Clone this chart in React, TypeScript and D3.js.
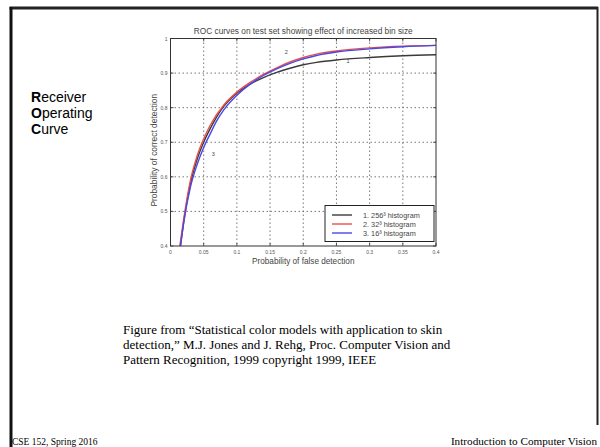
import React from "react";
import * as d3 from "d3";

const xTicks = [0, 0.05, 0.1, 0.15, 0.2, 0.25, 0.3, 0.35, 0.4];
const xTickLabels = ["0", "0.05", "0.1", "0.15", "0.2", "0.25", "0.3", "0.35", "0.4"];
const yTicks = [0.4, 0.5, 0.6, 0.7, 0.8, 0.9, 1];
const yTickLabels = ["0.4", "0.5", "0.6", "0.7", "0.8", "0.9", "1"];

const fprBlack = [0.015, 0.02, 0.025, 0.03, 0.04, 0.05, 0.06, 0.07, 0.08, 0.1, 0.12, 0.14, 0.16, 0.18, 0.2, 0.22, 0.25, 0.3, 0.35, 0.4];
const tprBlack = [0.4, 0.47, 0.53, 0.58, 0.65, 0.7, 0.74, 0.775, 0.803, 0.842, 0.868, 0.887, 0.902, 0.914, 0.924, 0.931, 0.938, 0.945, 0.95, 0.953];
const fprRed = [0.014, 0.02, 0.03, 0.04, 0.05, 0.06, 0.08, 0.1, 0.12, 0.14, 0.16, 0.18, 0.2, 0.22, 0.25, 0.3, 0.35, 0.4];
const tprRed = [0.4, 0.48, 0.59, 0.66, 0.71, 0.75, 0.807, 0.845, 0.873, 0.896, 0.915, 0.932, 0.945, 0.955, 0.964, 0.973, 0.978, 0.98];
const fprBlue = [0.015, 0.02, 0.03, 0.04, 0.05, 0.06, 0.07, 0.08, 0.1, 0.12, 0.14, 0.16, 0.18, 0.2, 0.22, 0.25, 0.3, 0.35, 0.4];
const tprBlue = [0.4, 0.47, 0.57, 0.635, 0.685, 0.725, 0.763, 0.793, 0.836, 0.868, 0.893, 0.912, 0.928, 0.941, 0.951, 0.961, 0.97, 0.976, 0.98];

const seriesNames = ["1. 256\u00B3 histogram", "2. 32\u00B3 histogram", "3. 16\u00B3 histogram"];
const seriesColors = ["#3a3a3a", "#e8504a", "#4848e8"];

const captionLines = [
  "Figure from \u201CStatistical color models with application to skin",
  "detection,\u201D M.J. Jones and J. Rehg, Proc. Computer Vision and",
  "Pattern Recognition, 1999 copyright 1999, IEEE",
];

export default function App() {
  const x = d3.scaleLinear().domain([0, 0.4]).range([170.5, 436]);
  const y = d3.scaleLinear().domain([0.4, 1]).range([246, 38.5]);
  const line = d3
    .line<[number, number]>()
    .x((d) => x(d[0]))
    .y((d) => y(d[1]))
    .curve(d3.curveMonotoneX);
  const series = [
    d3.zip(fprBlack, tprBlack) as [number, number][],
    d3.zip(fprRed, tprRed) as [number, number][],
    d3.zip(fprBlue, tprBlue) as [number, number][],
  ];
  const x0 = x(0), x1 = x(0.4), y0 = y(0.4), y1 = y(1);
  const sans = "'Liberation Sans', Arial, sans-serif";
  const serif = "'Liberation Serif', 'Times New Roman', serif";
  const lx = 325, ly = 205.5, lw = 109, lh = 36;
  return (
    <svg width={600} height={447} style={{ position: "absolute", left: 0, top: 0, background: "#fff" }}>
      {/* slide frame */}
      <line x1={9.5} x2={598} y1={8} y2={8} stroke="#222" strokeWidth={3} />
      <line x1={11} x2={11} y1={7} y2={447} stroke="#111" strokeWidth={3} />
      <line x1={597.5} x2={597.5} y1={7} y2={425} stroke="#222" strokeWidth={2} />

      {/* slide text */}
      <g fontFamily={sans} fontSize={14} fill="#000">
        <text x={31} y={102}><tspan fontWeight="bold">R</tspan>eceiver</text>
        <text x={31} y={118}><tspan fontWeight="bold">O</tspan>perating</text>
        <text x={31} y={134}><tspan fontWeight="bold">C</tspan>urve</text>
      </g>

      {/* chart */}
      <g>
        {/* grid */}
        {xTicks.slice(1, -1).map((t) => (
          <line key={"gx" + t} x1={x(t)} x2={x(t)} y1={y1} y2={y0} stroke="#555" strokeWidth={0.8} strokeDasharray="1.5,2.5" />
        ))}
        {yTicks.slice(1, -1).map((t) => (
          <line key={"gy" + t} x1={x0} x2={x1} y1={y(t)} y2={y(t)} stroke="#555" strokeWidth={0.8} strokeDasharray="1.5,2.5" />
        ))}
        {/* ticks */}
        {xTicks.map((t) => (
          <g key={"tx" + t}>
            <line x1={x(t)} x2={x(t)} y1={y0} y2={y0 - 3} stroke="#333" strokeWidth={0.8} />
            <line x1={x(t)} x2={x(t)} y1={y1} y2={y1 + 3} stroke="#333" strokeWidth={0.8} />
          </g>
        ))}
        {yTicks.map((t) => (
          <g key={"ty" + t}>
            <line x1={x0} x2={x0 + 3} y1={y(t)} y2={y(t)} stroke="#333" strokeWidth={0.8} />
            <line x1={x1} x2={x1 - 3} y1={y(t)} y2={y(t)} stroke="#333" strokeWidth={0.8} />
          </g>
        ))}
        {/* curves */}
        {series.map((s, i) => (
          <path key={"s" + i} d={line(s) || ""} fill="none" stroke={seriesColors[i]} strokeWidth={1.4} />
        ))}
        {/* curve labels */}
        <g fontFamily={sans} fontSize={5.5} fill="#444">
          <text x={x(0.172)} y={y(0.955)}>2</text>
          <text x={x(0.265)} y={y(0.928)}>1</text>
          <text x={x(0.062)} y={y(0.66)}>3</text>
        </g>
        {/* axes box */}
        <rect x={x0} y={y1} width={x1 - x0} height={y0 - y1} fill="none" stroke="#333" strokeWidth={1} />
        {/* tick labels */}
        <g fontFamily={sans} fontSize={5} fill="#555">
          {xTicks.map((t, i) => (
            <text key={"lx" + t} x={x(t)} y={y0 + 8} textAnchor="middle">{xTickLabels[i]}</text>
          ))}
          {yTicks.map((t, i) => (
            <text key={"ly" + t} x={x0 - 3} y={y(t) + 2} textAnchor="end">{yTickLabels[i]}</text>
          ))}
        </g>
        {/* title and axis labels */}
        <text x={(x0 + x1) / 2} y={33.5} textAnchor="middle" fontFamily={sans} fontSize={8.3} fill="#444">
          ROC curves on test set showing effect of increased bin size
        </text>
        <text x={(x0 + x1) / 2} y={264} textAnchor="middle" fontFamily={sans} fontSize={8.2} fill="#444">
          Probability of false detection
        </text>
        <text transform={`translate(157,${(y0 + y1) / 2 + 8}) rotate(-90)`} textAnchor="middle" fontFamily={sans} fontSize={8.4} fill="#444">
          Probability of correct detection
        </text>
        {/* legend */}
        <rect x={lx} y={ly} width={lw} height={lh} fill="#fff" stroke="#222" strokeWidth={1} />
        {seriesNames.map((n, i) => (
          <g key={"lg" + i}>
            <line x1={lx + 7} x2={lx + 27} y1={ly + 9.5 + i * 9} y2={ly + 9.5 + i * 9} stroke={seriesColors[i]} strokeWidth={1.4} />
            <text x={lx + 38} y={ly + 12 + i * 9} fontFamily={sans} fontSize={7.3} fill="#444">{n}</text>
          </g>
        ))}
      </g>

      {/* caption */}
      <g fontFamily={serif} fontSize={13} fill="#000">
        {captionLines.map((l, i) => (
          <text key={"c" + i} x={123} y={334 + i * 15}>{l}</text>
        ))}
      </g>

      {/* footer */}
      <g fontFamily={serif} fill="#000">
        <text x={12} y={445} fontSize={9.5}>CSE 152, Spring 2016</text>
        <text x={597} y={445} fontSize={11.2} textAnchor="end">Introduction to Computer Vision</text>
      </g>
    </svg>
  );
}
